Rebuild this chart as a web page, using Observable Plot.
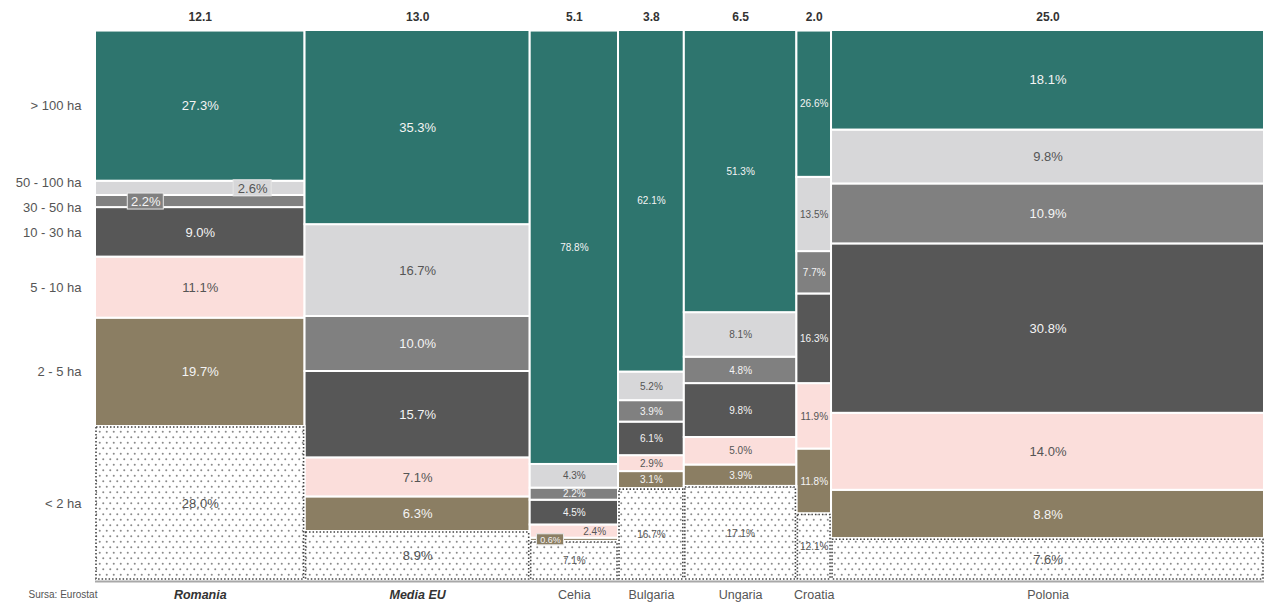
<!DOCTYPE html>
<html><head><meta charset="utf-8">
<script src="https://cdn.jsdelivr.net/npm/d3@7"></script>
<script src="https://cdn.jsdelivr.net/npm/@observablehq/plot@0.6"></script>
<style>body{margin:0;background:#fff} #chart svg{display:block}</style>
</head><body><div id="chart"></div>
<script>
// ---- data ----
const countries = ["Romania", "Media EU", "Cehia", "Bulgaria", "Ungaria", "Croatia", "Polonia"];
const widths = [12.1, 13.0, 5.1, 3.8, 6.5, 2.0, 25.0];
const categories = ["< 2 ha", "2 - 5 ha", "5 - 10 ha", "10 - 30 ha", "30 - 50 ha", "50 - 100 ha", "> 100 ha"];
const sharesLt2    = [28.0, 8.9, 7.1, 16.7, 17.1, 12.1, 7.6];
const shares2to5   = [19.7, 6.3, 0.6, 3.1, 3.9, 11.8, 8.8];
const shares5to10  = [11.1, 7.1, 2.4, 2.9, 5.0, 11.9, 14.0];
const shares10to30 = [9.0, 15.7, 4.5, 6.1, 9.8, 16.3, 30.8];
const shares30to50 = [2.2, 10.0, 2.2, 3.9, 4.8, 7.7, 10.9];
const shares50to100= [2.6, 16.7, 4.3, 5.2, 8.1, 13.5, 9.8];
const sharesGt100  = [27.3, 35.3, 78.8, 62.1, 51.3, 26.6, 18.1];
const shares = [sharesLt2, shares2to5, shares5to10, shares10to30, shares30to50, shares50to100, sharesGt100];
const source = "Sursa: Eurostat";

// ---- styles ----
const fills = ["url(#dots)", "#8b7e63", "#fbdedb", "#575757", "#808080", "#d7d7d9", "#2e756e"];
const textColors = ["#555", "#f4f4f4", "#555", "#f4f4f4", "#f4f4f4", "#555", "#f4f4f4"];
const boldCountries = new Set(["Romania", "Media EU"]);
const wideCountries = new Set(["Romania", "Media EU", "Polonia"]);
const labelFrac = {"Romania|30 - 50 ha": 0.24, "Romania|50 - 100 ha": 0.75, "Cehia|2 - 5 ha": 0.23, "Cehia|5 - 10 ha": 0.73};
const boxed = {"Romania|30 - 50 ha": [36, 16], "Romania|50 - 100 ha": [38, 16], "Cehia|2 - 5 ha": [27, 11]};
const yLabelShift = {"50 - 100 ha": 0.95, "30 - 50 ha": -1.2};

// ---- build table ----
const cells = [];
let cx = 0;
countries.forEach((c, i) => {
  let cy = 0;
  const xEnd = cx + widths[i];
  categories.forEach((cat, j) => {
    const v = shares[j][i];
    const key = c + "|" + cat;
    const f = labelFrac[key] ?? 0.5;
    cells.push({country: c, cat, j, v, x1: cx, x2: xEnd, y1: cy, y2: cy + v,
      lx: cx + (xEnd - cx) * f, ly: cy + v / 2, key,
      fill: fills[j], tfill: textColors[j], wide: wideCountries.has(c)});
    cy += v;
  });
  cx = xEnd;
});
const total = d3.sum(widths);
const cols = countries.map((c, i) => ({country: c, w: widths[i], mid: d3.sum(widths.slice(0, i)) + widths[i] / 2}));
const romania = cells.filter(d => d.country === "Romania");
const boxCells = cells.filter(d => boxed[d.key]);

const font = "Liberation Sans, Arial, Helvetica, sans-serif";

const marks = [
  Plot.rect(cells.filter(d => d.j > 0), {x1: "x1", x2: "x2", y1: "y1", y2: "y2", fill: "fill", stroke: "white", strokeWidth: 2}),
  Plot.rect(cells.filter(d => d.j === 0), {x1: "x1", x2: "x2", y1: "y1", y2: "y2", fill: "fill", stroke: "white", strokeWidth: 2}),
  Plot.rect(cells.filter(d => d.j === 0), {x1: "x1", x2: "x2", y1: "y1", y2: "y2", fill: "none", stroke: "#444", strokeWidth: 1.6, strokeDasharray: "1.5,2", inset: 1}),
  Plot.ruleY([0], {stroke: "#a8a8a8", strokeWidth: 2, dy: 1}),
  ...boxCells.map(d => Plot.rect([d], {x1: "lx", x2: "lx", y1: "ly", y2: "ly", fill: "fill", stroke: "#e6e6e6", strokeWidth: 1,
    insetLeft: -boxed[d.key][0] / 2, insetRight: -boxed[d.key][0] / 2, insetTop: -boxed[d.key][1] / 2, insetBottom: -boxed[d.key][1] / 2})),
  Plot.text(cells.filter(d => d.wide), {x: "lx", y: "ly", text: d => d.v.toFixed(1) + "%", fill: "tfill", fontSize: 13}),
  Plot.text(cells.filter(d => !d.wide), {x: "lx", y: "ly", text: d => d.v.toFixed(1) + "%", fill: "tfill", fontSize: d => d.key === "Cehia|2 - 5 ha" ? 9 : 10}),
  Plot.text(cols, {x: "mid", y: 100, text: d => d.w.toFixed(1), dy: -13, fontWeight: "bold", fontSize: 12, fill: "#333"}),
  Plot.text(cols.filter(d => boldCountries.has(d.country)), {x: "mid", y: 0, text: "country", dy: 14, fontWeight: "bold", fontStyle: "italic", fontSize: 12.5, fill: "#333"}),
  Plot.text(cols.filter(d => !boldCountries.has(d.country)), {x: "mid", y: 0, text: "country", dy: 14, fontSize: 12.5, fill: "#555"}),
  Plot.text(romania, {x: 0, y: d => d.ly + (yLabelShift[d.cat] ?? 0), text: "cat", dx: -14, textAnchor: "end", fontSize: 13, fill: "#555"}),
  Plot.text([source], {frameAnchor: "bottom-left", dx: -67, dy: 17, textAnchor: "start", fontSize: 10, fill: "#555", fontFamily: "Liberation Sans Narrow, Arial Narrow, sans-serif"})
];

const svg = Plot.plot({
  width: 1264, height: 603,
  marginLeft: 95, marginRight: 0, marginTop: 30, marginBottom: 23,
  x: {domain: [0, total], axis: null},
  y: {domain: [0, 100], axis: null},
  color: {type: "identity"},
  style: {fontFamily: font, background: "white", overflow: "visible"},
  marks
});

const defs = d3.select(svg).insert("defs", ":first-child");
const p = defs.append("pattern").attr("id", "dots").attr("patternUnits", "userSpaceOnUse").attr("width", 7).attr("height", 11);
p.append("rect").attr("width", 7).attr("height", 11).attr("fill", "white");
p.append("circle").attr("cx", 1.75).attr("cy", 2.75).attr("r", 1).attr("fill", "#8a8a8a");
p.append("circle").attr("cx", 5.25).attr("cy", 8.25).attr("r", 1).attr("fill", "#8a8a8a");

document.getElementById("chart").appendChild(svg);
</script>
</body></html>
